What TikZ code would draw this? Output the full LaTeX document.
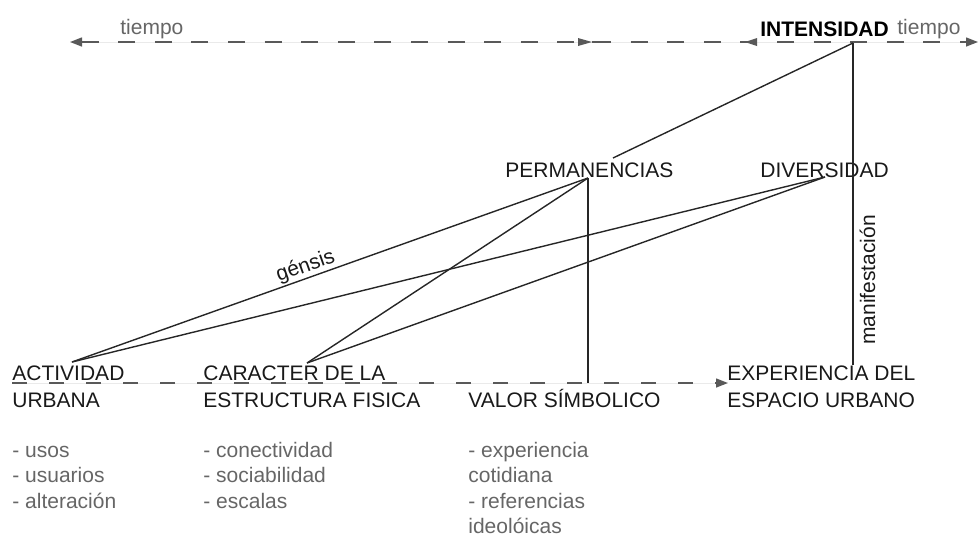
\documentclass[tikz,border=0pt]{standalone}
\usepackage{fontspec}
\setmainfont{Liberation Sans}
\usetikzlibrary{arrows.meta}
\begin{document}
\begin{tikzpicture}[x=0.5pt,y=-0.5pt,
  lbl/.style={inner sep=0pt, anchor=base west, font=\fontsize{10.5}{12}\selectfont, text=black!90},
  glbl/.style={lbl, text=black!60},
  conn/.style={draw=black!85, line width=0.7pt},
  dashln/.style={draw=black!65, line width=0.7pt, dash pattern=on 8.5pt off 9.8pt},
  tip/.tip={Triangle[length=6pt,width=4.5pt]}
]
\useasboundingbox (0,0) rectangle (980,537);

% ---- top time axis ----
\node[glbl] (tiempoL) at (120,34) {tiempo};
\node[lbl, text=black, font=\fontsize{10.5}{12}\selectfont\bfseries] (intens) at (760,36) {INTENSIDAD};
\node[glbl] (tiempoR) at (897,34) {tiempo};
\coordinate (tL) at (70,42);
\coordinate (tR) at (978,42);
\draw[dashln, tip-tip, fill=black!65] (tL) -- (tR);
\fill[black!65] (578,38) -- (592,42) -- (578,46) -- cycle;
\draw[draw=black!65, line width=0.7pt] (592,42) -- (610,42);
\fill[black!65] (757,38) -- (745,42) -- (757,46) -- cycle;

% ---- middle labels ----
\node[lbl] (perm) at (505,177) {PERMANENCIAS};
\node[lbl] (divers) at (760,177) {DIVERSIDAD};

% ---- bottom labels ----
\node[lbl] (act1) at (12,380) {ACTIVIDAD};
\node[lbl] (act2) at (12,407) {URBANA};
\node[lbl] (car1) at (203,380) {CARACTER DE LA};
\node[lbl] (car2) at (203,407) {ESTRUCTURA FISICA};
\node[lbl] (valor) at (468,407) {VALOR SÍMBOLICO};
\node[lbl] (exp1) at (727,380) {EXPERIENCIA DEL};
\node[lbl] (exp2) at (727,407) {ESPACIO URBANO};

% ---- lists ----
\node[glbl] (l11) at (12,457) {- usos};
\node[glbl] (l12) at (12,482.5) {- usuarios};
\node[glbl] (l13) at (12,508) {- alteración};
\node[glbl] (l21) at (203,457) {- conectividad};
\node[glbl] (l22) at (203,482.5) {- sociabilidad};
\node[glbl] (l23) at (203,508) {- escalas};
\node[glbl] (l31) at (468,457) {- experiencia};
\node[glbl] (l32) at (468,482.5) {cotidiana};
\node[glbl] (l33) at (468,508) {- referencias};
\node[glbl] (l34) at (468,533) {ideolóicas};

% ---- connector anchor points ----
\coordinate (intB) at (853,43);
\coordinate (permT) at (613,158);
\coordinate (permB) at (588,178);
\coordinate (divB) at (825,177);
\coordinate (actT) at (72,362);
\coordinate (carT) at (307,363);
\coordinate (valT) at (588,383);
\coordinate (expT) at (853,365);

% bottom time axis
\coordinate (bL) at (12,383);
\coordinate (bR) at (728,383);
\draw[dashln, dash pattern=on 7.5pt off 11pt, -tip, fill=black!65] (bL) -- (bR);

% connectors
\draw[conn] (intB) -- (permT);
\draw[conn] (intB) -- (expT);
\node[lbl, anchor=base, rotate=90] (manifest) at (875,280) {manifestación};
\draw[conn] (actT) -- node[lbl, anchor=base, sloped, pos=0.46, yshift=3pt] (gens) {génsis} (permB);
\draw[conn] (permB) -- (carT);
\draw[conn] (permB) -- (valT);
\draw[conn] (divB) -- (actT);
\draw[conn] (divB) -- (carT);
\end{tikzpicture}
\end{document}
